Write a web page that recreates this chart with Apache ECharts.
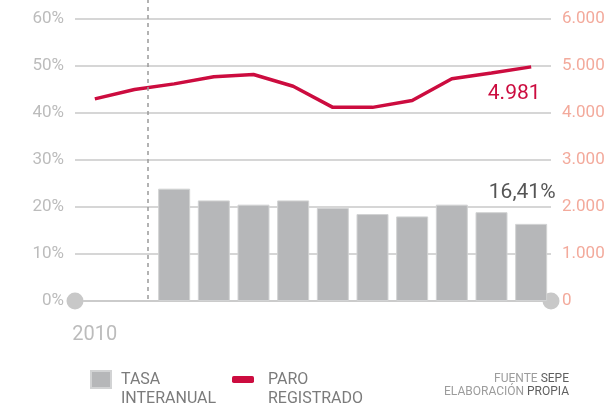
<!DOCTYPE html>
<html>
<head>
<meta charset="utf-8">
<script src="https://cdn.jsdelivr.net/npm/echarts@6/dist/echarts.min.js"></script>
<style>
  html, body { margin: 0; padding: 0; background: #fff; }
  #chart { width: 614px; height: 403px; }
</style>
</head>
<body>
<div id="chart"></div>
<script>
// datos
var categories = ['2010', '', '', '', '', '', '', '', '', '', '', ''];
var tasaInteranual = [null, null, 23.9, 21.4, 20.5, 21.4, 19.8, 18.5, 18.0, 20.5, 18.9, 16.41];
var paroRegistrado = [4300, 4500, 4620, 4770, 4820, 4570, 4120, 4120, 4265, 4730, 4850, 4981];
var pctTicks = [0, 10, 20, 30, 40, 50, 60];
var paroTicks = [0, 1000, 2000, 3000, 4000, 5000, 6000];
var dashedAt = 1.33; // linea discontinua entre categorias (indice fraccional)

var FONT = 'Roboto, "Noto Sans", sans-serif';
var NARROW = '"Liberation Sans Narrow", ' + FONT;
var RED = '#cc0c3f';
var GRID = '#c8c8c8';

var chart = echarts.init(document.getElementById('chart'));

function fmtMiles(v) {
  return String(v).replace(/\B(?=(\d{3})+(?!\d))/g, '.');
}

var lastIdx = paroRegistrado.length - 1;

function sourceTitle(a, b, top) {
  return {
    right: 40,
    top: top,
    text: '{a|' + a + '} {b|' + b + '}',
    textStyle: {
      fontFamily: NARROW,
      fontWeight: 'normal',
      fontSize: 12,
      rich: {
        a: { color: '#9c9c9c', fontSize: 12, fontFamily: NARROW },
        b: { color: '#5e5e5e', fontSize: 12, fontFamily: NARROW }
      }
    }
  };
}

chart.setOption({
  animation: false,
  textStyle: { fontFamily: FONT },
  grid: [
    { left: 75, right: 63, top: 19, bottom: 102 },
    { left: 75, right: 63, top: 0, bottom: 104 }
  ],
  title: [
    sourceTitle('FUENTE', 'SEPE', 368),
    sourceTitle('ELABORACIÓN', 'PROPIA', 381)
  ],
  legend: [
    {
      left: 90,
      top: 351,
      padding: 0,
      itemWidth: 20,
      itemHeight: 17,
      data: [{ name: 'TASA\nINTERANUAL', icon: 'rect' }],
      formatter: function (name) { return '\n' + name; },
      textStyle: { color: '#7b7b7b', fontSize: 16, lineHeight: 19, padding: [0, 0, 0, 5] }
    },
    {
      left: 232,
      top: 351,
      padding: 0,
      itemWidth: 22,
      itemHeight: 7,
      data: [{ name: 'PARO\nREGISTRADO', icon: 'roundRect' }],
      formatter: function (name) { return '\n' + name; },
      textStyle: { color: '#7b7b7b', fontSize: 16, lineHeight: 19, padding: [0, 0, 0, 9] }
    }
  ],
  xAxis: [
    {
      type: 'category',
      gridIndex: 0,
      data: categories,
      boundaryGap: true,
      axisLine: {
        lineStyle: { color: GRID, width: 1.5 },
        symbol: ['circle', 'circle'],
        symbolSize: [17, 17]
      },
      axisTick: { show: false },
      axisLabel: { interval: 0, color: '#bcbcbc', fontSize: 20, margin: 24 }
    },
    {
      type: 'value',
      gridIndex: 1,
      min: -0.5,
      max: categories.length - 0.5,
      show: false
    }
  ],
  yAxis: [
    {
      type: 'value',
      gridIndex: 0,
      min: pctTicks[0],
      max: pctTicks[pctTicks.length - 1],
      interval: 10,
      axisLine: { show: false },
      axisTick: { show: false },
      splitLine: { lineStyle: { color: GRID, width: 1.5 } },
      axisLabel: { color: '#bcbcbc', fontSize: 17, margin: 11, formatter: '{value}%' }
    },
    {
      type: 'value',
      gridIndex: 0,
      min: paroTicks[0],
      max: paroTicks[paroTicks.length - 1],
      interval: 1000,
      axisLine: { show: false },
      axisTick: { show: false },
      splitLine: { show: false },
      axisLabel: { color: '#f3aa9c', fontSize: 17, margin: 11, formatter: fmtMiles }
    },
    {
      type: 'value',
      gridIndex: 1,
      min: 0,
      max: 1,
      show: false
    }
  ],
  series: [
    {
      name: 'TASA\nINTERANUAL',
      type: 'bar',
      xAxisIndex: 0,
      yAxisIndex: 0,
      barWidth: 32,
      itemStyle: { color: '#b6b7b9', borderColor: '#d2d3d4', borderWidth: 1 },
      data: tasaInteranual.map(function (v, i) {
        if (i === lastIdx) {
          return {
            value: v,
            label: {
              show: true,
              position: 'top',
              distance: 0,
              offset: [-9, -21],
              color: '#555555',
              fontSize: 21,
              formatter: function (p) { return String(p.value).replace('.', ',') + '%'; }
            }
          };
        }
        return v;
      })
    },
    {
      name: 'PARO\nREGISTRADO',
      type: 'line',
      xAxisIndex: 0,
      yAxisIndex: 1,
      color: RED,
      symbol: 'circle',
      symbolSize: 0.1,
      showSymbol: true,
      lineStyle: { color: RED, width: 3.5 },
      itemStyle: { color: RED },
      data: paroRegistrado.map(function (v, i) {
        if (i === lastIdx) {
          return {
            value: v,
            label: {
              show: true,
              position: 'inside',
              offset: [-17, 27],
              color: RED,
              fontSize: 21,
              formatter: function (p) { return fmtMiles(p.value); }
            }
          };
        }
        return v;
      })
    },
    {
      name: 'separador',
      type: 'line',
      xAxisIndex: 1,
      yAxisIndex: 2,
      data: [],
      markLine: {
        silent: true,
        symbol: 'none',
        label: { show: false },
        lineStyle: { color: '#9a9a9a', type: [4, 4], width: 1.5 },
        data: [{ xAxis: dashedAt }]
      }
    }
  ]
});
</script>
</body>
</html>
